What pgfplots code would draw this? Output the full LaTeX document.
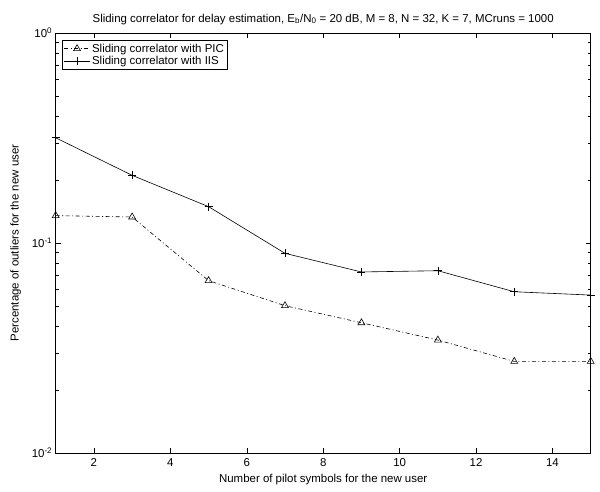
\documentclass[border=0pt]{standalone}
\usepackage{fontspec}
\setmainfont{Liberation Sans}
\usepackage{pgfplots}
\pgfplotsset{compat=1.18}

\begin{document}
\begin{tikzpicture}
\begin{semilogyaxis}[
  scale only axis, width=535bp, height=420bp,
  at={(0,0)}, anchor=south west,
  xmin=1, xmax=15, ymin=0.01, ymax=1,
  xtick={2,4,...,14},
  ytick={0.01,0.1,1},
  yticklabels={10\textsuperscript{-2},10\textsuperscript{-1},10\textsuperscript{0}},
  tick align=inside, tick pos=both,
  major tick length=5bp, minor tick length=3bp,
  axis line style={line width=0.6bp},
  every tick/.style={line width=0.5bp, black},
  tick label style={font=\fontsize{11.5}{13}\selectfont},
  xticklabel style={/pgf/number format/assume math mode=true, yshift=-2bp},
  label style={font=\fontsize{11.5}{13}\selectfont},
  xlabel={Number of pilot symbols for the new user},
  ylabel={Percentage of outliers for the new user},
  xlabel style={yshift=-1bp},
  ylabel style={yshift=4bp},
  title={Sliding correlator for delay estimation, E\textsubscript{b}/N\textsubscript{0} = 20 dB, M = 8, N = 32, K = 7, MCruns = 1000},
  title style={font=\fontsize{11.5}{13}\selectfont, yshift=-1bp},
  legend style={at={(axis cs:1,1)}, anchor=north west, xshift=6.5bp, yshift=-7bp,
    font=\fontsize{11.5}{13}\selectfont, draw=black, line width=0.6bp,
    inner sep=1.5bp, row sep=-1.5bp},
  legend cell align=left,
  legend image code/.code={\draw[mark repeat=2,mark phase=2,#1] plot coordinates {(0cm,0cm) (0.45cm,0cm) (0.9cm,0cm)};},
]
\addplot[black, line width=0.6bp, dash pattern=on 4bp off 2.5bp on 1bp off 2.5bp,
  mark=triangle, mark size=4bp, mark options={solid, line width=0.6bp}] coordinates
  {(1,0.135) (3,0.133) (5,0.0662) (7,0.0503) (9,0.0417) (11,0.0345) (13,0.0273) (15,0.0273)};
\addlegendentry{Sliding correlator with PIC}
\addplot[black, line width=0.6bp, mark=+, mark size=4bp, mark options={solid}] coordinates
  {(1,0.317) (3,0.210) (5,0.149) (7,0.0893) (9,0.0728) (11,0.0738) (13,0.0586) (15,0.0565)};
\addlegendentry{Sliding correlator with IIS}
\end{semilogyaxis}
\pgfresetboundingbox
\path (-55.7bp,-39bp) rectangle (544.3bp,453bp);
\end{tikzpicture}
\end{document}
